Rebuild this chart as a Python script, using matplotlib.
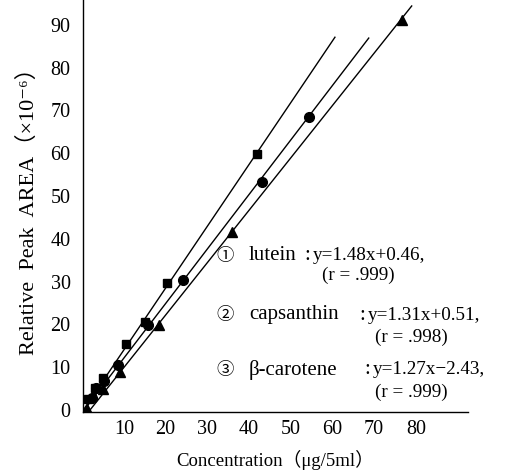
import matplotlib
matplotlib.use("Agg")
import matplotlib.pyplot as plt

plt.rcParams['font.family'] = ['Liberation Serif', 'Noto Sans CJK JP', 'DejaVu Sans']

# Data
lutein_x = [1.5, 3.0, 5.0, 10.5, 15.0, 20.4, 41.9]
lutein_y = [2.5, 5.0, 7.5, 15.4, 20.5, 29.7, 59.8]
capsanthin_x = [2.4, 3.2, 5.2, 8.6, 15.8, 24.2, 43.1, 54.4]
capsanthin_y = [2.8, 5.0, 6.8, 10.4, 19.9, 30.4, 53.3, 68.5]
carotene_x = [1.2, 5.0, 9.1, 18.4, 35.9, 76.6]
carotene_y = [0.3, 4.8, 8.8, 19.8, 41.6, 91.1]

# Regression line endpoints
lutein_line_x = [0.3, 60.6]
lutein_line_y = [0.0, 87.1]
capsanthin_line_x = [0.5, 68.7]
capsanthin_line_y = [0.0, 86.9]
carotene_line_x = [1.5, 79.0]
carotene_line_y = [-0.5, 94.4]

xticks = [10, 20, 30, 40, 50, 60, 70, 80]
yticks = [0, 10, 20, 30, 40, 50, 60, 70, 80, 90]

numerals = ['①', '②', '③']
names = ['lutein', 'capsanthin', 'β-carotene']
equations = ['y=1.48x+0.46,', 'y=1.31x+0.51,', 'y=1.27x−2.43,']
r_texts = ['(r = .999)', '(r = .998)', '(r = .999)']

fig = plt.figure(figsize=(5.2, 4.76), dpi=100)
ax = fig.add_axes([83/520, (476-412)/476, (468-83)/520, 412/476])

lw = 1.0
ax.plot(lutein_line_x, lutein_line_y, color='black', lw=lw)
ax.plot(capsanthin_line_x, capsanthin_line_y, color='black', lw=lw)
ax.plot(carotene_line_x, carotene_line_y, color='black', lw=lw)

ax.plot(lutein_x, lutein_y, 's', color='black', ms=5.5, ls='none')
ax.plot(capsanthin_x, capsanthin_y, 'o', color='black', ms=7, ls='none')
ax.plot(carotene_x, carotene_y, '^', color='black', ms=6.5, ls='none')

ax.set_xlim(0.2, 92.5)
ax.set_ylim(-0.5, 95.8)
ax.set_xticks(xticks)
ax.set_yticks(yticks)
ax.tick_params(length=0, labelsize=14.5)
ax.tick_params(axis='y', pad=9)
ax.tick_params(axis='x', pad=6)
ax.spines['top'].set_visible(False)
ax.spines['right'].set_visible(False)
ax.spines['left'].set_linewidth(1.0)
ax.spines['bottom'].set_linewidth(1.0)

ax.set_xlabel('Concentration（μg/5ml）', fontsize=13.5, labelpad=8)
ax.set_ylabel('Relative  Peak  AREA（×10⁻⁶）', fontsize=16, labelpad=8)

fs = 13.8
def t(px, py, s, size=fs, ha='left'):
    fig.text(px/520, 1 - py/476, s, fontsize=size, va='center', ha=ha)

rows_y = [256, 315, 370]
r_y = [275, 337, 392]
eq_x = [313, 368, 373]
r_x = [322, 375, 375]
for i in range(3):
    t(216, rows_y[i] + 1, numerals[i], size=12.5)
    t(249, rows_y[i], names[i], size=15)
    t(eq_x[i] - 6, rows_y[i], ':', size=15, ha='center')
    t(eq_x[i], rows_y[i], equations[i])
    t(r_x[i], r_y[i], r_texts[i])

fig.savefig('out.png', dpi=100)
